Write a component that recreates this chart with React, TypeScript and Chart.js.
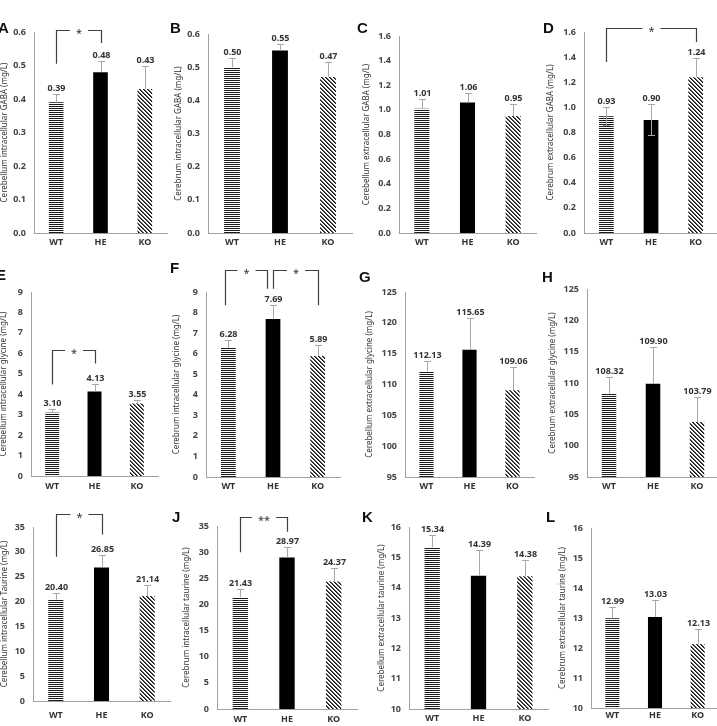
import React, { useEffect, useRef } from "react";
import { Chart, registerables } from "chart.js";
Chart.register(...registerables);

const groups = ["WT", "HE", "KO"];

const aValues = [0.39, 0.48, 0.43];
const aErrUp = [0.025, 0.032, 0.07];
const bValues = [0.5, 0.55, 0.47];
const bErrUp = [0.028, 0.02, 0.047];
const cValues = [1.01, 1.06, 0.95];
const cErrUp = [0.077, 0.081, 0.094];
const dValues = [0.93, 0.9, 1.24];
const dErrUp = [0.076, 0.127, 0.153];
const dErrDown = [0.07, 0.12, 0];
const eValues = [3.1, 4.13, 3.55];
const eErrUp = [0.2, 0.35, 0.16];
const fValues = [6.28, 7.69, 5.89];
const fErrUp = [0.38, 0.66, 0.52];
const gValues = [112.13, 115.65, 109.06];
const gErrUp = [1.66, 5.15, 3.82];
const hValues = [108.32, 109.9, 103.79];
const hErrUp = [2.64, 5.8, 3.98];
const iValues = [20.4, 26.85, 21.14];
const iErrUp = [1.4, 2.6, 2.1];
const jValues = [21.43, 28.97, 24.37];
const jErrUp = [1.5, 2.0, 2.6];
const kValues = [15.34, 14.39, 14.38];
const kErrUp = [0.41, 0.86, 0.53];
const lValues = [12.99, 13.03, 12.13];
const lErrUp = [0.37, 0.57, 0.51];

const aBrackets = [{ from: 0, to: 1, top: 0.606, leftEnd: 0.505, rightEnd: 0.567, text: "*" }];
const dBrackets = [{ from: 0, to: 2, top: 1.632, leftEnd: 1.361, rightEnd: 1.52, text: "*" }];
const eBrackets = [{ from: 0, to: 1, top: 6.16, leftEnd: 4.48, rightEnd: 5.5, text: "*" }];
const fBrackets = [
  { from: 0, to: 1, top: 10.05, leftEnd: 8.35, rightEnd: 9.16, text: "*", dxL: -3, dxR: -6 },
  { from: 1, to: 2, top: 10.05, leftEnd: 9.16, rightEnd: 8.35, text: "*" },
];
const iBrackets = [{ from: 0, to: 1, top: 37.7, leftEnd: 29.0, rightEnd: 33.5, text: "*" }];
const jBrackets = [{ from: 0, to: 1, top: 36.7, leftEnd: 30.0, rightEnd: 33.9, text: "**" }];

const panels = [
  { title: "Cerebellum intracellular GABA (mg/L)", values: aValues, errUp: aErrUp, min: 0, max: 0.6, step: 0.1, dec: 1, area: { l: 34, r: 167, t: 32, b: 233 }, titleX: 5, labelY: 243, row: [0, 252], brackets: aBrackets },
  { title: "Cerebrum intracellular GABA (mg/L)", values: bValues, errUp: bErrUp, min: 0, max: 0.6, step: 0.1, dec: 1, area: { l: 208, r: 352, t: 34, b: 233 }, titleX: 179, labelY: 243, row: [0, 252], brackets: [] },
  { title: "Cerebellum extracellular GABA (mg/L)", values: cValues, errUp: cErrUp, min: 0, max: 1.6, step: 0.2, dec: 1, area: { l: 399, r: 536, t: 36, b: 233 }, titleX: 367, labelY: 243, row: [0, 252], brackets: [] },
  { title: "Cerebrum extracellular GABA (mg/L)", values: dValues, errUp: dErrUp, errDown: dErrDown, min: 0, max: 1.6, step: 0.2, dec: 1, area: { l: 584, r: 718, t: 32, b: 233 }, titleX: 551, labelY: 243, row: [0, 252], brackets: dBrackets },
  { title: "Cerebellum intracellular glycine (mg/L)", values: eValues, errUp: eErrUp, min: 0, max: 9, step: 1, dec: 0, area: { l: 31, r: 158, t: 292, b: 476 }, titleX: 4, labelY: 487, row: [252, 496], brackets: eBrackets },
  { title: "Cerebrum intracellular glycine (mg/L)", values: fValues, errUp: fErrUp, min: 0, max: 9, step: 1, dec: 0, area: { l: 206, r: 340, t: 292, b: 477 }, titleX: 177, labelY: 487, row: [252, 496], brackets: fBrackets },
  { title: "Cerebellum extracellular glycine (mg/L)", values: gValues, errUp: gErrUp, min: 95, max: 125, step: 5, dec: 0, area: { l: 405, r: 534, t: 292, b: 477 }, titleX: 370, labelY: 487, row: [252, 496], brackets: [] },
  { title: "Cerebrum extracellular glycine (mg/L)", values: hValues, errUp: hErrUp, min: 95, max: 125, step: 5, dec: 0, area: { l: 587, r: 719, t: 289, b: 477 }, titleX: 553, labelY: 487, row: [252, 496], brackets: [] },
  { title: "Cerebellum intracellular Taurine (mg/L)", values: iValues, errUp: iErrUp, min: 0, max: 35, step: 5, dec: 0, area: { l: 33, r: 170, t: 527, b: 701 }, titleX: 5, labelY: 716, row: [496, 726], brackets: iBrackets },
  { title: "Cerebrum intracellular taurine (mg/L)", values: jValues, errUp: jErrUp, min: 0, max: 35, step: 5, dec: 0, area: { l: 217, r: 357, t: 526, b: 709 }, titleX: 187, labelY: 720, row: [496, 726], brackets: jBrackets },
  { title: "Cerebellum extracellular taurine (mg/L)", values: kValues, errUp: kErrUp, min: 10, max: 16, step: 1, dec: 0, area: { l: 409, r: 548, t: 527, b: 709 }, titleX: 382, labelY: 719, row: [496, 726], brackets: [] },
  { title: "Cerebrum extracellular taurine (mg/L)", values: lValues, errUp: lErrUp, min: 10, max: 16, step: 1, dec: 0, area: { l: 591, r: 719, t: 528, b: 708 }, titleX: 563, labelY: 716, row: [496, 726], brackets: [] },
];

const letters = [
  { t: "A", x: -2, y: 33 }, { t: "B", x: 170, y: 33 }, { t: "C", x: 357, y: 33 }, { t: "D", x: 543, y: 33 },
  { t: "E", x: -4, y: 280 }, { t: "F", x: 170, y: 273 }, { t: "G", x: 359, y: 282 }, { t: "H", x: 542, y: 282 },
  { t: "J", x: 172, y: 522 }, { t: "K", x: 362, y: 522 }, { t: "L", x: 546, y: 522 },
];

const FONT = "'Noto Sans', 'DejaVu Sans', sans-serif";

function makeWT() {
  const c = document.createElement("canvas");
  c.width = 4; c.height = 2;
  const g = c.getContext("2d")!;
  g.fillStyle = "#ffffff"; g.fillRect(0, 0, 4, 2);
  g.fillStyle = "#1a1a1a"; g.fillRect(0, 0, 4, 1);
  return g.createPattern(c, "repeat");
}
function makeKO() {
  const c = document.createElement("canvas");
  c.width = 4; c.height = 4;
  const g = c.getContext("2d")!;
  const img = g.createImageData(4, 4);
  for (let y = 0; y < 4; y++) for (let x = 0; x < 4; x++) {
    const d = (((x - y) % 4) + 4) % 4;
    const v = d === 0 ? 20 : d === 1 ? 90 : 255;
    const k = (y * 4 + x) * 4;
    img.data[k] = v; img.data[k + 1] = v; img.data[k + 2] = v; img.data[k + 3] = 255;
  }
  g.putImageData(img, 0, 0);
  return g.createPattern(c, "repeat");
}

function Panel({ p }: { p: any }) {
  const ref = useRef<HTMLCanvasElement>(null);
  const left = Math.floor(p.titleX - 7);
  const right = Math.ceil(Math.min(p.area.r + 3, 722));
  const top = p.row[0];
  const width = right - left;
  const height = p.row[1] - p.row[0];
  useEffect(() => {
    const canvas = ref.current!;
    const wt = makeWT();
    const ko = makeKO();
    const deco = {
      id: "deco" + p.title,
      afterDraw(chart: any) {
        const ctx = chart.ctx;
        const xs = chart.scales.x, ys = chart.scales.y;
        const ca = chart.chartArea;
        ctx.save();
        ctx.save();
        ctx.translate(p.titleX - left, (ca.top + ca.bottom) / 2);
        ctx.rotate(-Math.PI / 2);
        ctx.font = `8px ${FONT}`;
        ctx.fillStyle = "#333";
        ctx.textAlign = "center";
        ctx.textBaseline = "middle";
        ctx.fillText(p.title, 0, 0);
        ctx.restore();
        p.values.forEach((v: number, i: number) => {
          const cx = Math.round(xs.getPixelForValue(i)) + 0.5;
          const ytop = Math.round(ys.getPixelForValue(v + p.errUp[i])) + 0.5;
          const down = p.errDown ? p.errDown[i] : 0;
          const ybot = ys.getPixelForValue(v - down);
          ctx.strokeStyle = "#a8a8a8";
          ctx.lineWidth = 1;
          ctx.beginPath();
          ctx.moveTo(cx, ybot);
          ctx.lineTo(cx, ytop);
          ctx.moveTo(cx - 3.5, ytop);
          ctx.lineTo(cx + 3.5, ytop);
          if (down > 0) {
            const yb = Math.round(ybot) + 0.5;
            ctx.moveTo(cx - 3.5, yb);
            ctx.lineTo(cx + 3.5, yb);
          }
          ctx.stroke();
          ctx.font = `bold 9px ${FONT}`;
          ctx.fillStyle = "#333";
          ctx.textAlign = "center";
          ctx.textBaseline = "middle";
          ctx.fillText(v.toFixed(2), cx, ytop - 6);
        });
        p.brackets.forEach((b: any) => {
          const xl = Math.round(xs.getPixelForValue(b.from) + (b.dxL || 0)) + 0.5;
          const xr = Math.round(xs.getPixelForValue(b.to) + (b.dxR || 0)) + 0.5;
          const yt = Math.round(ys.getPixelForValue(b.top)) + 0.5;
          const yl = ys.getPixelForValue(b.leftEnd);
          const yr = ys.getPixelForValue(b.rightEnd);
          ctx.font = `11px ${FONT}`;
          const tw = ctx.measureText(b.text).width;
          const mid = (xl + xr) / 2;
          const gap = tw / 2 + 6;
          ctx.strokeStyle = "#404040";
          ctx.lineWidth = 1.2;
          ctx.beginPath();
          ctx.moveTo(xl, yl);
          ctx.lineTo(xl, yt);
          ctx.lineTo(mid - gap, yt);
          ctx.moveTo(mid + gap, yt);
          ctx.lineTo(xr, yt);
          ctx.lineTo(xr, yr);
          ctx.stroke();
          ctx.fillStyle = "#333";
          ctx.textAlign = "center";
          ctx.textBaseline = "alphabetic";
          ctx.fillText(b.text, mid, yt + 6);
        });
        ctx.restore();
      },
    };
    const chart = new Chart(canvas, {
      type: "bar",
      data: {
        labels: groups,
        datasets: [
          {
            data: p.values,
            base: p.min,
            backgroundColor: [wt, "#000000", ko],
            borderWidth: 0,
            barPercentage: 0.33,
            categoryPercentage: 1,
          },
        ],
      },
      options: {
        responsive: false,
        animation: false,
        layout: { padding: { left: 0, right: right - p.area.r, top: p.area.t - top, bottom: 0 } },
        plugins: { legend: { display: false }, tooltip: { enabled: false } },
        scales: {
          x: {
            grid: { display: false, drawTicks: false, tickLength: 0 },
            border: { display: true, color: "#a0a0a0", width: 1 },
            ticks: { color: "#333", font: { family: FONT, size: 9, weight: "bold" }, padding: p.labelY - p.area.b - 5.5 },
            afterFit: (s: any) => { s.height = top + height - p.area.b; },
          },
          y: {
            min: p.min,
            max: p.max,
            grid: { display: false, drawTicks: false, tickLength: 0 },
            border: { display: true, color: "#a0a0a0", width: 1 },
            ticks: {
              stepSize: p.step,
              color: "#444",
              padding: 8,
              font: { family: FONT, size: 9, weight: "bold" },
              callback: (v: any) => Number(v).toFixed(p.dec),
            },
            afterFit: (s: any) => { s.width = p.area.l - left; },
          },
        },
      },
      plugins: [deco],
    } as any);
    return () => chart.destroy();
  }, []);
  return (
    <canvas
      ref={ref}
      width={width}
      height={height}
      style={{ position: "absolute", left, top, width, height }}
    />
  );
}

export default function App() {
  return (
    <div style={{ position: "absolute", left: 0, top: 0, width: 717, height: 726, overflow: "hidden", background: "#fff" }}>
      {panels.map((p, i) => (
        <Panel key={i} p={p} />
      ))}
      {letters.map((l) => (
        <div
          key={l.t}
          style={{
            position: "absolute",
            left: l.x,
            top: l.y - 13.5,
            font: "bold 15px 'Liberation Sans', Arial, sans-serif",
            lineHeight: "16px",
            color: "#111",
          }}
        >
          {l.t}
        </div>
      ))}
    </div>
  );
}
